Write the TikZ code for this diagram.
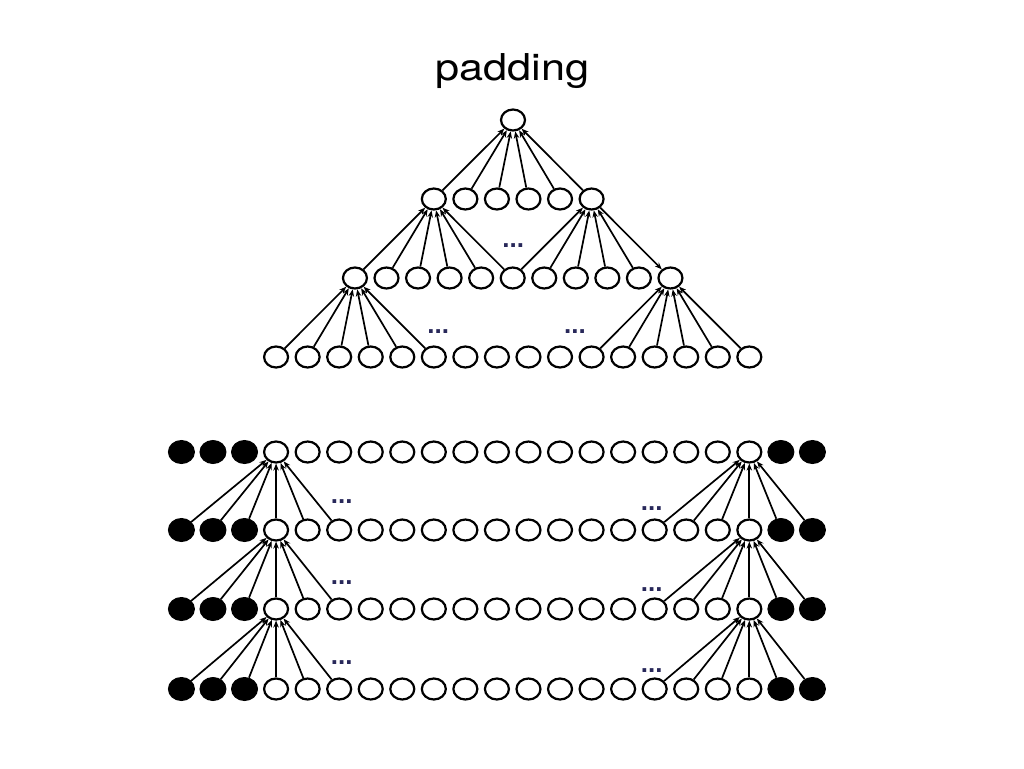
\documentclass[tikz,border=0pt]{standalone}
\usepackage{fontspec}
\newfontfamily\titlefont{TeX Gyre Heros}
\newfontfamily\dotfont{Liberation Sans}
\usetikzlibrary{shapes.geometric,arrows.meta}
\definecolor{dotc}{RGB}{40,40,90}
\tikzset{
  wn/.style={draw=black, fill=white, ellipse, line width=2.2pt, inner sep=0pt,
             minimum width=24pt, minimum height=21pt},
  bn/.style={draw=black, fill=black, ellipse, line width=1pt, inner sep=0pt,
             minimum width=26pt, minimum height=23pt},
  arr/.style={line width=1.7pt, -{Stealth[length=7pt,width=5.5pt]}},
  dots/.style={anchor=base, inner sep=0pt, text=dotc, font=\dotfont\bfseries\fontsize{26}{26}\selectfont},
  ttl/.style={inner sep=0pt, font=\titlefont\fontsize{37}{37}\selectfont}
}
\begin{document}
\begin{tikzpicture}[x=1pt,y=-1pt]
\useasboundingbox[fill=white] (0,0) rectangle (1024,768);
% title
\node[ttl] (title) at (512.5,71) {\scalebox{1.17}[1]{padding}};
% ---------- top tree ----------
\node[wn] (r) at (513,120) {};
\foreach \i in {0,...,5} \node[wn] (a\i) at ({512.7+31.55*(\i-2.5)},199) {};
\foreach \i in {0,...,10} \node[wn] (b\i) at ({512.7+31.55*(\i-5)},278) {};
\foreach \i in {0,...,15} \node[wn] (c\i) at ({512.7+31.55*(\i-7.5)},357) {};
\foreach \i in {0,...,5} \draw[arr] (a\i) -- (r);
\foreach \i in {0,...,5} \draw[arr] (b\i) -- (a0);
\foreach \i in {5,...,9} \draw[arr] (b\i) -- (a5);
\draw[arr] (a5) -- (b10);
\foreach \i in {0,...,5} \draw[arr] (c\i) -- (b0);
\foreach \i in {10,...,15} \draw[arr] (c\i) -- (b10);
\node[dots] (t1) at (513.3,247) {...};
\node[dots] (t2) at (438.3,333.6) {...};
\node[dots] (t3) at (575,333.6) {...};
% ---------- padded rows ----------
\foreach \r/\y in {1/452,2/530,3/609,4/689} {
  \foreach \k in {0,...,20} {
    \ifnum\k<3
      \node[bn] (d\r n\k) at ({512.7+31.55*(\k-10.5)},\y) {};
    \else\ifnum\k>18
      \node[bn] (d\r n\k) at ({512.7+31.55*(\k-10.5)},\y) {};
    \else
      \node[wn] (d\r n\k) at ({512.7+31.55*(\k-10.5)},\y) {};
    \fi\fi
  }
}
\foreach \r/\p in {2/1,3/2,4/3} {
  \foreach \k in {0,...,5} \draw[arr] (d\r n\k) -- (d\p n3);
  \foreach \k in {15,...,20} \draw[arr] (d\r n\k) -- (d\p n18);
}
\node[dots] (l1) at (341.7,503) {...};
\node[dots] (l2) at (341.7,584.6) {...};
\node[dots] (l3) at (341.7,664.6) {...};
\node[dots] (q1) at (651.7,510.6) {...};
\node[dots] (q2) at (651.7,591.3) {...};
\node[dots] (q3) at (651.7,672) {...};
\end{tikzpicture}
\end{document}
